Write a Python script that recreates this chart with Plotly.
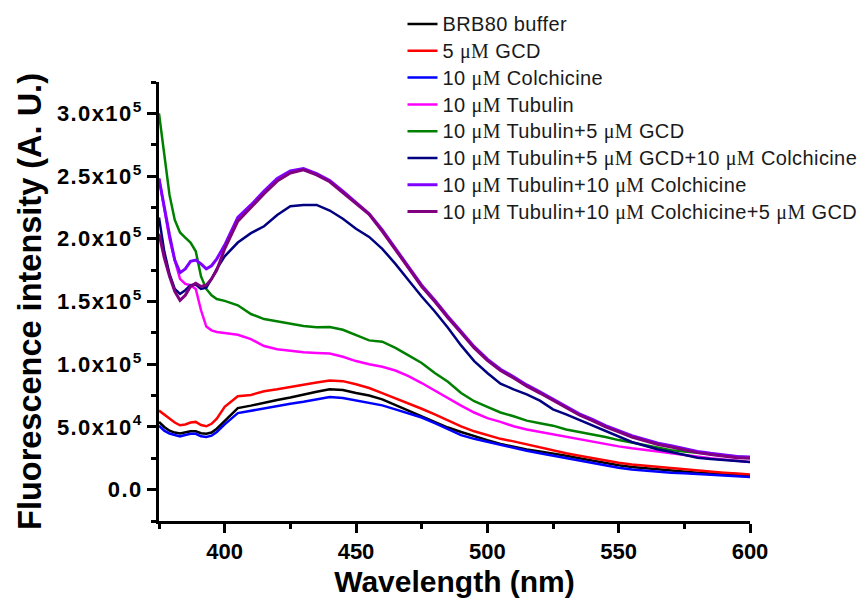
import numpy as np
import plotly.graph_objects as go

# Wavelength (nm)
wavelength = [375, 377, 379, 381, 383, 385, 387, 389, 391, 393, 395, 397, 400,
              405, 410, 415, 420, 425, 430, 435, 440, 445, 450, 455, 460, 465,
              470, 475, 480, 485, 490, 495, 500, 505, 510, 515, 520, 525, 530,
              535, 540, 545, 550, 555, 560, 565, 570, 575, 580, 585, 590, 595, 600]

# Fluorescence intensity, in units of 10^3 A.U.
brb80 = [54, 50, 47, 45.5, 44.7, 45.5, 46.5, 46.5, 45, 44.5, 45.5, 48.6, 55,
         65, 67, 69.5, 71.5, 73.5, 76, 78, 80, 79.5, 77, 75, 72, 67.5,
         62.5, 58, 53.5, 49.5, 46, 42.5, 39.5, 36.5, 34, 32, 30.5, 29, 27,
         25, 23, 21, 19.5, 18, 17, 16, 15, 14, 13.5, 12.8, 12, 11.5, 11]
gcd5 = [63, 60, 56.6, 53.5, 51.3, 52, 53.5, 54, 51.5, 50.5, 52.5, 56.6, 66,
        74.5, 75.5, 78.5, 80, 82, 84, 85.5, 87, 86.5, 84, 81, 77, 73,
        68.5, 64.5, 60, 55, 50.5, 46.5, 43.5, 40.5, 38.5, 36, 34, 31.5, 29,
        27, 25, 23, 21.5, 20, 19, 18, 17, 16, 15, 14.2, 13.5, 12.8, 12]
colch10 = [51, 47, 44.7, 43.5, 42.5, 43.5, 44.5, 44.5, 42.5, 42, 43, 46, 52,
           61, 63, 64.5, 66.5, 68.5, 70, 72, 73.8, 73, 71, 69.5, 67.2, 64,
           61, 57.5, 53, 48, 43.5, 40.5, 38, 36, 33.5, 31, 29, 27, 25,
           23, 21, 19, 17.5, 16, 15, 14, 13.5, 13, 12.5, 12, 11, 10.5, 10]
tub10 = [248, 225, 200, 183, 168, 164, 163, 160, 143, 130, 127, 125.7, 125,
         123.5, 120, 114.5, 112, 110.5, 109.5, 109, 108.5, 106, 102.5, 100, 98, 95,
         90.5, 85, 79, 72.5, 67, 61.5, 57, 54, 50.5, 48, 46, 44, 42,
         40, 38, 36, 34.5, 33, 32, 30.5, 29, 27.5, 26, 25, 24, 23, 22]
tub_gcd = [300, 268, 235, 215, 205, 201, 197, 190, 170, 160, 155, 152, 150.5,
           147, 140, 136, 134, 132, 130.5, 129.5, 129.7, 127.5, 123, 119, 118, 113,
           107, 101, 93, 86, 77, 70.5, 66, 61.5, 58.5, 55, 53, 51, 48,
           46, 44.5, 42, 39.5, 37.5, 35, 33, 31.5, 30.5, 29.5, 28.5, 27.5, 26.5, 25.5]
tub_gcd_colch = [217, 190, 172, 160, 156, 159, 163, 163.5, 160, 161, 168, 176, 186,
                 197, 204.5, 210, 219, 226, 227, 227, 222.5, 216, 208, 201.5, 192, 180,
                 167, 154, 142, 129, 115, 102.5, 93, 84.5, 80, 76, 71, 64, 60,
                 55.5, 51.5, 46.5, 42, 38, 35, 32, 30, 27.5, 25.5, 24.5, 23.5, 22.5, 22]
tub_colch = [248, 225, 203, 183, 173, 176, 182, 183, 180, 176, 178.5, 184, 195,
             217, 227, 238, 248, 254, 256, 252, 246.5, 238, 229, 220, 207, 192,
             177, 163, 151, 138, 126, 114, 104, 96, 90, 83.5, 78, 72, 66,
             60.5, 56, 51, 47, 43, 40, 37, 35, 32.5, 30.5, 29, 27.5, 26.5, 26]
tub_colch_gcd = [204, 185, 170, 158, 151, 155, 162, 164.5, 162, 163, 168, 175, 192,
                 214, 225, 236, 246, 252.5, 255, 251, 245.5, 237, 228, 219.5, 206, 191,
                 176, 162, 150, 137, 125, 113, 103, 95, 89, 82.5, 77, 71, 65,
                 59.5, 55, 50, 46, 42, 39, 36, 34, 31.5, 29.5, 28, 26.5, 25.5, 25]

MU = '<span style="font-family:Liberation Serif">\u03bcM</span>'
labels = ["BRB80 buffer",
          f"5 {MU} GCD",
          f"10 {MU} Colchicine",
          f"10 {MU} Tubulin",
          f"10 {MU} Tubulin+5 {MU} GCD",
          f"10 {MU} Tubulin+5 {MU} GCD+10 {MU} Colchicine",
          f"10 {MU} Tubulin+10 {MU} Colchicine",
          f"10 {MU} Tubulin+10 {MU} Colchicine+5 {MU} GCD"]
names = [f'<span style="font-size:20px;letter-spacing:0.4px">{t}</span>' for t in labels]
series = [brb80, gcd5, colch10, tub10, tub_gcd, tub_gcd_colch, tub_colch, tub_colch_gcd]
colors = ["#000000", "#ff0000", "#0000ff", "#ff00ff", "#008000", "#000080", "#8000ff", "#800080"]
widths = [2.5, 2.5, 2.5, 2.5, 2.5, 2.5, 3, 3]

ytickvals = [0, 50000, 100000, 150000, 200000, 250000, 300000]
ytick_plain = ["0.0", "5.0x10<sup>4</sup>", "1.0x10<sup>5</sup>", "1.5x10<sup>5</sup>",
               "2.0x10<sup>5</sup>", "2.5x10<sup>5</sup>", "3.0x10<sup>5</sup>"]
yticktext = [f'<span style="letter-spacing:1.4px">{t}</span>' for t in ytick_plain]

fig = go.Figure()
for name, vals, c, w in zip(names, series, colors, widths):
    fig.add_trace(go.Scatter(x=wavelength, y=np.array(vals) * 1000, mode="lines",
                             name=name, line=dict(color=c, width=w)))

FONT = "Arial, Liberation Sans, sans-serif"
fig.update_layout(
    width=868, height=603,
    margin=dict(l=159, r=118, t=82, b=82, autoexpand=False),
    paper_bgcolor="white", plot_bgcolor="white",
    font=dict(family=FONT, color="black"),
    showlegend=True,
    legend=dict(x=0.412, y=1.174, xanchor="left", yanchor="top",
                bgcolor="rgba(0,0,0,0)", font=dict(size=18.3, color="#1a1a1a", family=FONT),
                tracegroupgap=0),
    xaxis=dict(range=[375, 600], tickmode="linear", tick0=400, dtick=50,
               showline=True, linecolor="black", linewidth=3, mirror=False,
               ticks="outside", ticklen=9, tickwidth=3, tickcolor="black",
               showgrid=False, zeroline=False,
               tickfont=dict(size=22, family=FONT, weight="bold"),
               minor=dict(dtick=25, tick0=375, ticks="outside", ticklen=5, tickwidth=3,
                          tickcolor="black", showgrid=False),
               title=dict(text="Wavelength (nm)",
                          font=dict(size=30, family=FONT, weight="bold"), standoff=8)),
    yaxis=dict(range=[-25000, 325000], tickmode="array", tickvals=ytickvals, ticktext=yticktext,
               showline=True, linecolor="black", linewidth=3, mirror=False,
               ticks="outside", ticklen=9, tickwidth=3, tickcolor="black",
               showgrid=False, zeroline=False,
               tickfont=dict(size=22, family=FONT, weight="bold"),
               minor=dict(dtick=25000, tick0=-25000, ticks="outside", ticklen=5, tickwidth=3,
                          tickcolor="black", showgrid=False),
               title=dict(text="Fluorescence intensity (A. U.)\u00a0\u00a0\u00a0",
                          font=dict(size=32.5, family=FONT, weight="bold"), standoff=6)),
)

fig.write_html("out.html")
